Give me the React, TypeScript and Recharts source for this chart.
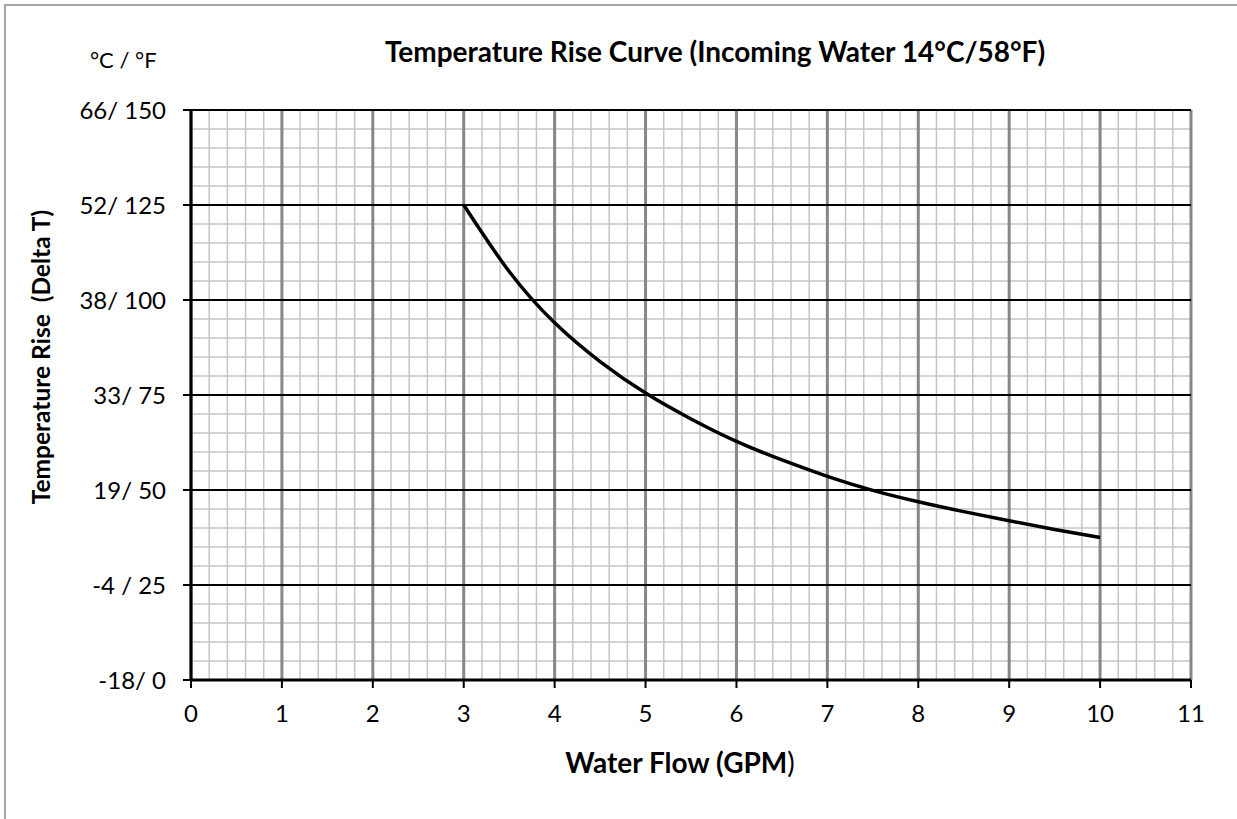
import React from "react";
import { LineChart, Line, XAxis, YAxis, CartesianGrid } from "recharts";

// ---- data ----
const flowGpm = [3, 3.5, 4, 4.5, 5, 5.5, 6, 6.5, 7, 7.5, 8, 8.5, 9, 9.5, 10];
const riseF = [125, 107.5, 94, 83.8, 75.5, 68.7, 62.8, 57.9, 53.6, 49.9, 46.9, 44.3, 41.9, 39.6, 37.5];

const xTicks = [0, 1, 2, 3, 4, 5, 6, 7, 8, 9, 10, 11];
const yTicks = [0, 25, 50, 75, 100, 125, 150];
const yTickLabels = ["-18/ 0", "-4 / 25", "19/ 50", "33/ 75", "38/ 100", "52/ 125", "66/ 150"];

const titleText = "Temperature Rise Curve (Incoming Water 14°C/58°F)";
const unitText = "°C / °F";
const yAxisTitle = "Temperature Rise  (Delta T)";
const xAxisTitle = "Water Flow (GPM";

// minor grid every 0.2 GPM and every 5 °F
const xMinor = Array.from({ length: 56 }, (_, i) => Math.round(i * 0.2 * 10) / 10);
const yMinor = Array.from({ length: 31 }, (_, i) => i * 5);

const data = flowGpm.map((f, i) => ({ flow: f, rise: riseF[i] }));

const FONT = "Lato, 'Open Sans', sans-serif";

export default function App() {
  const W = 1237;
  const H = 819;
  return (
    <div style={{ position: "absolute", left: 0, top: 0, width: W, height: H, background: "#fff", overflow: "hidden", fontFamily: FONT }}>
      <div style={{ position: "absolute", left: 4, top: 4, width: W, height: H, borderTop: "2px solid #a6a6a6", borderLeft: "2px solid #a6a6a6" }} />
      <LineChart width={W} height={H} data={data} margin={{ top: 110, right: 46, left: 111, bottom: 79 }}>
        <CartesianGrid horizontalValues={yMinor} verticalValues={xMinor} stroke="#c6c6c6" strokeWidth={1.5} />
        <CartesianGrid horizontal={false} verticalValues={xTicks} stroke="#878787" strokeWidth={3} />
        <CartesianGrid vertical={false} horizontalValues={yTicks} stroke="#000" strokeWidth={2} />
        <XAxis
          type="number"
          dataKey="flow"
          domain={[0, 11]}
          ticks={xTicks}
          interval={0}
          allowDataOverflow
          height={60}
          tickSize={8}
          tickMargin={17}
          axisLine={{ stroke: "#000", strokeWidth: 3 }}
          tickLine={{ stroke: "#000", strokeWidth: 2 }}
          tick={{ fill: "#000", fontSize: 24, fontFamily: FONT }}
        />
        <YAxis
          type="number"
          domain={[0, 150]}
          ticks={yTicks}
          interval={0}
          allowDataOverflow
          width={80}
          tickSize={8}
          tickMargin={17}
          axisLine={{ stroke: "#000", strokeWidth: 3 }}
          tickLine={{ stroke: "#000", strokeWidth: 2 }}
          tick={{ fill: "#000", fontSize: 24, fontFamily: FONT }}
          tickFormatter={(v: number) => yTickLabels[yTicks.indexOf(v)] ?? String(v)}
        />
        <Line type="natural" dataKey="rise" stroke="#000" strokeWidth={3.5} dot={false} isAnimationActive={false} />
      </LineChart>
      <div style={{ position: "absolute", left: 0, width: 1430, top: 33, textAlign: "center", fontSize: 28, fontWeight: 700, color: "#000", whiteSpace: "nowrap", lineHeight: "36px" }}>
        {titleText}
      </div>
      <div style={{ position: "absolute", left: 90, top: 45, fontSize: 22, color: "#000", whiteSpace: "nowrap", lineHeight: "30px" }}>
        {unitText}
      </div>
      <div style={{ position: "absolute", left: 41, top: 357, width: 0, height: 0 }}>
        <div style={{ position: "absolute", left: -200, top: -16, width: 400, textAlign: "center", transform: "rotate(-90deg)", fontSize: 24.5, fontWeight: 700, whiteSpace: "pre", lineHeight: "32px", color: "#000" }}>
          {yAxisTitle}
        </div>
      </div>
      <div style={{ position: "absolute", left: 0, width: 1360, top: 746, textAlign: "center", fontSize: 28, color: "#000", whiteSpace: "nowrap", lineHeight: "32px" }}>
        <span style={{ fontWeight: 700 }}>{xAxisTitle}</span>)
      </div>
    </div>
  );
}
